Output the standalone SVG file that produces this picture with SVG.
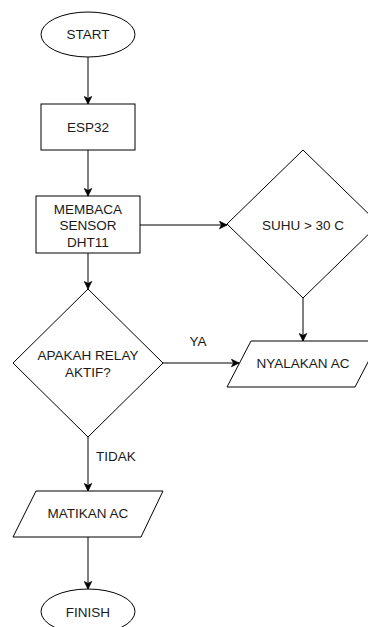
<svg xmlns="http://www.w3.org/2000/svg" width="368" height="627" viewBox="0 0 368 627">
<defs>
<marker id="arr" markerWidth="9" markerHeight="9" refX="8" refY="4.5" orient="auto" markerUnits="userSpaceOnUse">
<path d="M0.5,0.8 L8,4.5 L0.5,8.2 L2.5,4.5 Z" fill="#000" stroke="#000" stroke-width="0.8" stroke-linejoin="miter"/>
</marker>
</defs>
<style>
.n{fill:#fff;stroke:#000;stroke-width:1}
.t{font-family:"Liberation Sans",Arial,Helvetica,sans-serif;font-size:13.5px;fill:#1a1a1a;text-anchor:middle}
.e{fill:none;stroke:#000;stroke-width:1;marker-end:url(#arr)}
</style>
<rect width="368" height="627" fill="#fff"/>
<g id="connectors">
<line class="e" x1="88" y1="57" x2="88" y2="104"/>
<line class="e" x1="88" y1="150" x2="88" y2="196"/>
<line class="e" x1="88" y1="253" x2="88" y2="289"/>
<line class="e" x1="140" y1="225" x2="227" y2="225"/>
<line class="e" x1="303" y1="298" x2="303" y2="341"/>
<line class="e" x1="163" y1="363" x2="239" y2="363"/>
<line class="e" x1="88" y1="437" x2="88" y2="491"/>
<line class="e" x1="88" y1="537" x2="88" y2="589"/>
<text class="t" x="198" y="346">YA</text>
<text class="t" x="116" y="460.5">TIDAK</text>
</g>
<g id="start">
<ellipse class="n" cx="88" cy="34.5" rx="47" ry="22.5"/>
<text class="t" x="88" y="39">START</text>
</g>
<g id="esp32">
<rect class="n" x="41" y="104" width="94" height="46"/>
<text class="t" x="88" y="132">ESP32</text>
</g>
<g id="membaca">
<rect class="n" x="36" y="196" width="104" height="57"/>
<text class="t" x="88" y="213.5">MEMBACA</text>
<text class="t" x="88" y="230">SENSOR</text>
<text class="t" x="88" y="246.5">DHT11</text>
</g>
<g id="suhu">
<polygon class="n" points="303,150 379,224 303,298 227,224"/>
<text class="t" x="303" y="229.5">SUHU &gt; 30 C</text>
</g>
<g id="apakah">
<polygon class="n" points="88,289 163,363 88,437 13,363"/>
<text class="t" x="88" y="360">APAKAH RELAY</text>
<text class="t" x="88" y="377">AKTIF?</text>
</g>
<g id="nyalakan">
<polygon class="n" points="251,341 379,341 355,387 227,387"/>
<text class="t" x="303" y="368">NYALAKAN AC</text>
</g>
<g id="matikan">
<polygon class="n" points="36,491 163,491 141,537 13,537"/>
<text class="t" x="88" y="518">MATIKAN AC</text>
</g>
<g id="finish">
<ellipse class="n" cx="88" cy="611.5" rx="47" ry="22.5"/>
<text class="t" x="88" y="616.5">FINISH</text>
</g>
</svg>
